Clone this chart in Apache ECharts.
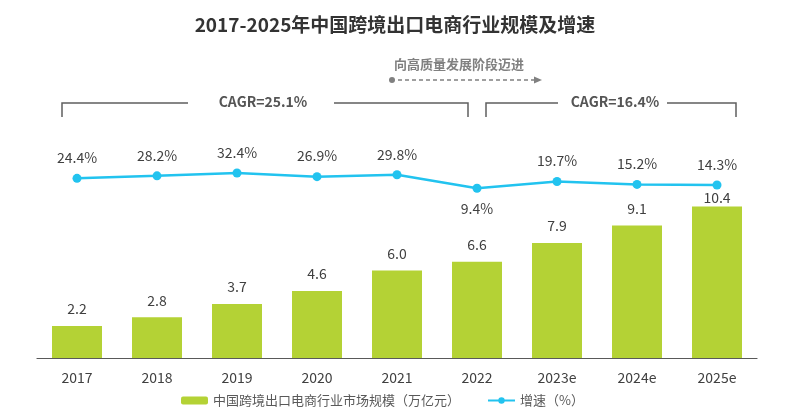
<!DOCTYPE html>
<html>
<head>
<meta charset="utf-8">
<script src="https://cdn.jsdelivr.net/npm/echarts@6/dist/echarts.min.js"></script>
<style>
  html, body { margin: 0; padding: 0; background: #fff; }
  #main { width: 790px; height: 418px; }
</style>
</head>
<body>
<div id="main"></div>
<script>
var years = ['2017', '2018', '2019', '2020', '2021', '2022', '2023e', '2024e', '2025e'];
var scale = [2.2, 2.8, 3.7, 4.6, 6.0, 6.6, 7.9, 9.1, 10.4];
var growth = [24.4, 28.2, 32.4, 26.9, 29.8, 9.4, 19.7, 15.2, 14.3];

var barName = '中国跨境出口电商行业市场规模（万亿元）';
var lineName = '增速（%）';
var font = "'Noto Sans CJK SC', 'Open Sans', sans-serif";

var dom = document.getElementById('main');
var myChart = echarts.init(dom);

// 标签位置：10.4 柱子贴近折线，9.4% 放在点下方
var barData = scale.map(function (v, i) {
    if (i === scale.length - 1) {
        return { value: v, label: { distance: 2 } };
    }
    return v;
});
var lineData = growth.map(function (v, i) {
    if (i === 5) {
        return { value: v, label: { position: 'bottom', distance: 9 } };
    }
    return v;
});

var grey = '#5f5f5f';

var option = {
    textStyle: { fontFamily: font },
    title: {
        text: '2017-2025年中国跨境出口电商行业规模及增速',
        left: 'center',
        top: 10,
        textStyle: { fontSize: 19, fontWeight: 'bold', color: '#333', fontFamily: font }
    },
    legend: {
        left: 176,
        top: 389,
        itemWidth: 27,
        itemHeight: 8,
        itemGap: 27,
        textStyle: { fontSize: 13, color: '#595959', fontFamily: font },
        data: [barName, lineName]
    },
    grid: [
        { left: 37, right: 33, top: 154, bottom: 60 },
        { left: 37, right: 33, top: 168, bottom: 223.5 }
    ],
    xAxis: [{
        type: 'category',
        gridIndex: 0,
        data: years,
        axisTick: { show: false },
        axisLine: { lineStyle: { color: '#595959', width: 1.2 } },
        axisLabel: { fontSize: 14, color: '#404040', margin: 13, fontFamily: font }
    }, {
        type: 'category',
        gridIndex: 1,
        data: years,
        show: false
    }],
    yAxis: [{
        type: 'value',
        gridIndex: 0,
        min: 0,
        max: 14,
        show: false,
        splitLine: { show: false }
    }, {
        type: 'value',
        gridIndex: 1,
        min: 0,
        max: 40,
        show: false,
        splitLine: { show: false }
    }],
    series: [{
        name: barName,
        type: 'bar',
        xAxisIndex: 0,
        yAxisIndex: 0,
        barWidth: 50,
        itemStyle: { color: '#B4D235' },
        label: {
            show: true,
            position: 'top',
            distance: 10,
            fontSize: 14,
            color: '#404040',
            fontFamily: font,
            formatter: function (p) { return p.value.toFixed(1); }
        },
        data: barData
    }, {
        name: lineName,
        type: 'line',
        xAxisIndex: 1,
        yAxisIndex: 1,
        symbol: 'circle',
        symbolSize: 9,
        lineStyle: { color: '#22C3EF', width: 2.5 },
        itemStyle: { color: '#22C3EF' },
        label: {
            show: true,
            position: 'top',
            distance: 9,
            fontSize: 14,
            color: '#404040',
            fontFamily: font,
            formatter: function (p) { return p.value.toFixed(1) + '%'; }
        },
        data: lineData
    }],
    graphic: [
        // CAGR 括号 1
        { type: 'polyline', shape: { points: [[62, 117], [62, 103], [188, 103]] }, style: { stroke: grey, lineWidth: 1.5, fill: null } },
        { type: 'polyline', shape: { points: [[334, 103], [468, 103], [468, 117]] }, style: { stroke: grey, lineWidth: 1.5, fill: null } },
        { type: 'text', x: 263, y: 102, style: { text: 'CAGR=25.1%', fill: '#555', font: 'bold 14px ' + font, textAlign: 'center', textVerticalAlign: 'middle' } },
        // CAGR 括号 2
        { type: 'polyline', shape: { points: [[486, 117], [486, 103], [558, 103]] }, style: { stroke: grey, lineWidth: 1.5, fill: null } },
        { type: 'polyline', shape: { points: [[667, 103], [736, 103], [736, 117]] }, style: { stroke: grey, lineWidth: 1.5, fill: null } },
        { type: 'text', x: 615, y: 102, style: { text: 'CAGR=16.4%', fill: '#555', font: 'bold 14px ' + font, textAlign: 'center', textVerticalAlign: 'middle' } },
        // 向高质量发展阶段迈进
        { type: 'text', x: 459, y: 64, style: { text: '向高质量发展阶段迈进', fill: '#808080', font: 'bold 13px ' + font, textAlign: 'center', textVerticalAlign: 'middle' } },
        { type: 'circle', shape: { cx: 392, cy: 80, r: 3 }, style: { fill: '#808080' } },
        { type: 'line', shape: { x1: 398, y1: 80, x2: 534, y2: 80 }, style: { stroke: '#808080', lineWidth: 1.3, lineDash: [4, 3] } },
        { type: 'polygon', shape: { points: [[534, 76.5], [542, 80], [534, 83.5]] }, style: { fill: '#808080' } }
    ]
};

if (option && typeof option === 'object') {
    myChart.setOption(option, true);
}
</script>
</body>
</html>
